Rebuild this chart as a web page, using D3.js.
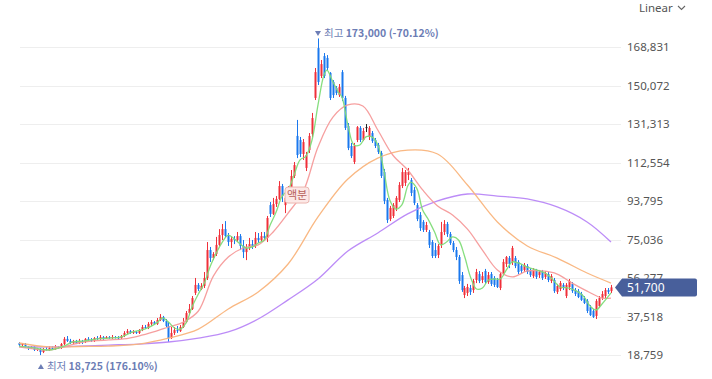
<!DOCTYPE html>
<html><head><meta charset="utf-8">
<script src="https://cdn.jsdelivr.net/npm/d3@7"></script>
<style>
html,body{margin:0;padding:0;background:#fff;}
svg{display:block;font-family:"Noto Sans","Noto Sans CJK KR",sans-serif;}
</style></head><body>
<svg id="c" width="712" height="379"></svg>
<script>
const opens=[24600,23600,24100,22700,22200,22700,21200,21700,20200,21700,
21200,22200,21700,22700,22200,24100,26600,25600,24600,25600,
24600,25600,25100,26600,26100,25600,27000,26600,27500,27000,
27500,27000,27500,27300,27000,28000,29500,30400,29500,30000,
29500,30900,32400,31900,33900,34800,33900,35800,37300,35300,
32900,27000,29500,30900,30400,32400,34800,39200,41200,49000,
52900,50900,52400,56300,69900,66000,68000,72400,77200,80100,
76700,73800,75300,74800,76700,71900,68900,70900,72800,71900,
75800,74800,76700,75800,91800,87500,92300,94800,101100,91800,
95300,99200,106000,125500,123500,116700,109900,118600,126400,144000,
168300,154700,164400,163500,156200,151800,148900,145400,156600,144000,
130300,120600,112800,123500,129400,123500,129800,125000,126900,123500,
121100,117200,107900,94300,85000,86500,90400,94300,101100,102600,
106500,104000,99200,91800,87000,83600,79700,78700,73800,69900,
67500,72400,78700,82600,77700,73300,69900,66500,57700,48000,
49000,51400,50400,55300,58200,55300,59700,54300,58200,56300,
55300,51400,58700,63100,66000,64100,66000,64100,62100,60200,
62100,60200,57200,59700,57700,59200,56800,58200,54800,55300,
49500,50900,52900,47500,51900,53400,50400,49900,48500,46500,
45100,42100,40200,37800,42600,46500,47500,50400,49900];
const closes=[23600,24100,22700,22200,22700,21200,21700,20200,21700,21200,
22200,21700,22700,22200,24100,26600,25600,24600,25600,24600,
25600,25100,26600,26100,25600,27000,26600,27500,27000,27500,
27000,27500,27300,27000,28000,29500,30400,29500,30000,29500,
30900,32400,31900,33900,34800,33900,35800,37300,35300,32900,
27000,29500,30900,30400,32400,34800,39200,41200,46500,52900,
50900,52400,56300,69900,66000,68000,72400,77200,80100,76700,
73800,75300,74800,76700,71900,68900,70900,72800,71900,75800,
74800,76700,75800,85500,87500,92300,94800,101100,96200,95300,
99200,106000,111300,116200,116700,122500,116200,125500,134200,156600,
151800,160500,154700,158600,144000,145400,146400,149300,144000,129400,
119600,115700,120600,129800,123500,127900,129800,129400,123000,120600,
117700,106000,93800,84500,90400,91800,95300,101600,107900,107900,
107900,97700,92800,85000,80600,79700,82100,72400,67000,67000,
71900,78700,82600,77700,73300,69900,66500,54800,50400,51400,
51900,49500,54800,59200,54800,57200,54300,57700,53400,52900,
51900,58200,64100,66500,63100,70900,62100,59200,59700,62600,
59200,57700,60200,56800,59200,56300,58700,55300,57200,49900,
52400,53800,51400,52900,54800,49900,48500,47000,45600,44100,
40200,38200,37300,45100,46500,48500,50400,49500,51700];
const highs=[25100,24600,24600,23100,23100,23100,22200,22200,22200,22700,
23100,23100,23600,23100,24600,27500,28000,26600,26100,26100,
26600,26100,27000,27500,27000,27500,28000,28500,28000,28000,
28000,28500,28000,28000,28500,30400,31400,30900,30900,30400,
31400,33400,33400,34800,35800,35300,36800,38700,37800,36300,
34800,32400,32400,32900,33400,36800,40200,43600,47500,56300,
53800,53800,59200,73800,71400,68900,76300,80100,82600,84000,
78200,76700,76700,78700,77700,74800,72800,75800,74800,78700,
78200,78700,78700,86500,93300,95300,96200,103500,102100,96200,
101100,108900,112800,133300,125000,124000,117700,126900,136700,158600,
173000,162500,165900,164900,156600,152700,149800,150800,157600,145000,
131800,122100,122100,130300,130300,129400,131300,130300,127900,124500,
122100,118200,109400,95300,91400,92800,96200,103000,109900,108900,
109900,105000,100600,92800,88400,84500,83600,79700,74800,73300,
72800,83600,84500,83600,78700,74300,71400,67500,59200,52400,
53400,52900,55800,60700,59700,59200,60700,59200,59200,57200,
56300,59200,65500,67000,67000,71900,67000,65000,63100,63600,
63100,61100,61100,60700,60200,60200,59700,59200,58200,56300,
53400,54800,53800,53800,55800,54300,51400,50900,49500,47500,
46000,43100,41200,46000,47500,49900,51400,51400,52900];
const lows=[23100,22700,22200,21200,21700,20700,20700,18725,19700,20700,
20700,21200,21200,21700,21700,23600,25100,24100,24100,24100,
24100,24100,24600,25600,25100,25100,26100,26100,26100,26600,
26600,26600,26800,26100,26600,27500,29000,29000,29000,29000,
29000,30400,31400,31400,32900,33400,33400,35300,34800,32400,
25100,26600,28500,29500,30000,31900,34300,38200,40700,48000,
49900,50400,51400,55300,64100,65000,67000,71900,74800,75800,
71900,70900,72800,73800,69900,66000,65000,69900,70400,70900,
73300,73800,74300,73800,86000,87000,90900,94300,93300,87900,
94300,98200,105000,114700,115200,113800,108400,117200,125000,143000,
150300,153700,153700,157600,143000,144000,145400,144500,142500,128400,
118600,114700,111800,122500,122500,123000,127400,123500,122100,119600,
116700,105000,92300,83100,84000,85500,88900,93300,100100,101100,
104000,96200,91800,84000,79200,78700,78700,70900,66000,66000,
66000,70900,77200,76300,72400,68900,65000,53400,49500,46500,
47500,48000,49000,53800,53800,53800,53400,53400,52400,51900,
51400,50400,57700,61600,61100,62600,61100,58200,58700,59200,
58200,56800,56300,55800,56300,55300,55800,54300,53800,49000,
48500,49900,50400,46500,50400,49000,47500,46500,45100,43600,
39200,37800,36800,36300,41700,45600,46500,48500,49000];

const yTicks=[18759,37518,56277,75036,93795,112554,131313,150072,168831];

const ma5Idx=[0,5,10,15,18,22,26,30,34,38,42,46,48,50,52,54,56,58,60,62,64,66,68,70,72,74,76,78,80,82,84,86,88,90,92,94,96,98,100,102,103,105,107,108,110,112,114,116,118,120,122,124,126,128,130,131,133,135,137,139,141,143,145,147,149,151,153,155,157,159,161,163,165,167,170,173,176,178,181,184,187,189,191,193,195,198];
const ma5=[23100,22200,21200,23100,25100,25600,26600,27000,27500,30000,31400,34300,36800,34800,31900,31400,34800,42600,48500,53800,62100,68500,73800,77200,75300,72800,70900,71400,73300,74800,82100,88400,96200,99200,106500,113800,115700,123500,140600,155200,157600,151800,146400,144500,130800,121100,121100,125000,125000,121100,108900,94300,89900,91800,101100,103000,100100,89400,84500,78700,72400,73800,76300,74800,67000,56800,50900,51400,55300,55800,55800,60200,64100,63600,61600,60200,58700,56300,51900,51400,49500,47000,42600,40700,43600,49000];
const ma20Idx=[0,5,10,15,20,25,30,35,40,45,50,55,60,65,70,75,80,85,90,95,100,105,110,115,120,125,130,135,140,145,150,155,160,165,170,175,180,185,190,195,198];
const ma20=[22700,21700,21200,22700,24600,25600,26100,26600,28000,30000,32400,34800,40200,57200,66500,70900,72400,78700,87900,98200,120100,134700,140600,140100,128400,116200,108900,99200,91400,87000,80100,69900,60200,56800,59700,59700,58200,53800,49900,46500,46500];
const ma60Idx=[0,10,20,30,40,50,60,70,80,90,100,110,120,130,140,150,160,170,180,190,198];
const ma60=[24600,22700,22900,23100,24100,27000,31400,41200,49500,63100,86000,104500,114700,118600,116700,101600,83600,71900,66000,58700,53800];
const ma120Idx=[0,10,20,30,40,50,60,70,80,90,100,110,120,130,140,150,160,170,180,190,198];
const ma120=[22700,22700,23100,23600,24100,25100,27000,30000,36300,45600,55800,69400,78200,87500,93800,97200,96200,94800,90900,83600,73800];

const maxIdx=100, maxPrice=173000, maxPct="(-70.12%)";
const minIdx=7, minPrice=18725, minPct="(176.10%)";
const splitIdx=93, splitVal=96700;

const svg=d3.select("#c");
const x=d3.scaleLinear().domain([0,closes.length-1]).range([19,611]);
const y=d3.scaleLinear().domain([yTicks[0],yTicks[yTicks.length-1]]).range([355,47]);
const fmt=d3.format(",");

// gridlines
svg.append("g").selectAll("line").data(yTicks).join("line")
  .attr("x1",20).attr("x2",621)
  .attr("y1",d=>Math.round(y(d))+0.5).attr("y2",d=>Math.round(y(d))+0.5)
  .attr("stroke","#eeeeee").attr("stroke-width",1);

// axis labels
const ax=svg.append("g").attr("transform","translate(627,0)")
  .call(d3.axisRight(y).tickValues(yTicks).tickSize(0).tickPadding(0).tickFormat(fmt));
ax.select(".domain").remove();
ax.selectAll("text").attr("fill","#555").attr("font-size","11.5px")
  .attr("font-family","'Noto Sans','Noto Sans CJK KR',sans-serif");

// candles
const cg=svg.append("g");
closes.forEach((c,i)=>{
  const o=opens[i],h=highs[i],l=lows[i];
  const col=c>o?"#f0303a":(c<o?"#1a78ee":"#222");
  const cx=Math.round(x(i));
  cg.append("rect").attr("x",cx).attr("width",1)
    .attr("y",y(h)).attr("height",Math.max(1,y(l)-y(h))).attr("fill",col);
  const top=y(Math.max(o,c)),bot=y(Math.min(o,c));
  cg.append("rect").attr("x",cx-0.5).attr("width",2)
    .attr("y",top).attr("height",Math.max(1,bot-top)).attr("fill",col);
});

// moving averages
function maLine(idx,vals,color){
  const line=d3.line().x((d,k)=>x(idx[k])).y(d=>y(d)).curve(d3.curveCatmullRom.alpha(0.5));
  svg.append("path").attr("d",line(vals)).attr("fill","none")
    .attr("stroke",color).attr("stroke-width",1.3).attr("stroke-opacity",0.95);
}
maLine(ma120Idx,ma120,"#b886f7");
maLine(ma60Idx,ma60,"#f9b47c");
maLine(ma20Idx,ma20,"#f59a9a");
maLine(ma5Idx,ma5,"#7fdc78");

// max annotation
const annColor="#6c7db5";
const mx=x(maxIdx), my=y(maxPrice)-5;
svg.append("path").attr("d",`M${mx-3},${my-2.5}L${mx+3},${my-2.5}L${mx},${my+2.5}Z`).attr("fill",annColor);
const t1=svg.append("text").attr("x",mx+6).attr("y",my).attr("dy","0.35em")
  .attr("font-size","10.5px").attr("fill",annColor).attr("font-family","'Noto Sans CJK KR','Noto Sans',sans-serif");
t1.append("tspan").text("최고 ");
t1.append("tspan").attr("font-weight","bold").text(fmt(maxPrice)+" "+maxPct);

// min annotation
const nx=x(minIdx)+1, ny=y(minPrice)+11.5;
svg.append("path").attr("d",`M${nx-3},${ny+2.5}L${nx+3},${ny+2.5}L${nx},${ny-2.5}Z`).attr("fill",annColor);
const t2=svg.append("text").attr("x",nx+6).attr("y",ny).attr("dy","0.35em")
  .attr("font-size","10.5px").attr("fill",annColor).attr("font-family","'Noto Sans CJK KR','Noto Sans',sans-serif");
t2.append("tspan").text("최저 ");
t2.append("tspan").attr("font-weight","bold").text(fmt(minPrice)+" "+minPct);

// split marker
const sx=x(splitIdx), sy=y(splitVal);
svg.append("rect").attr("x",sx-12).attr("y",sy-8).attr("width",24).attr("height",16).attr("rx",3)
  .attr("fill","#fce8e6").attr("stroke","#ebb6b1").attr("stroke-width",1);
svg.append("text").attr("x",sx).attr("y",sy).attr("dy","0.35em").attr("text-anchor","middle")
  .attr("font-size","11px").attr("fill","#b8615b").attr("font-family","'Noto Sans CJK KR',sans-serif").text("액분");

// last price label
const last=closes[closes.length-1];
const ly=y(last);
svg.append("path").attr("d",`M615,${ly}L622,${ly-9}L695,${ly-9}Q697,${ly-9} 697,${ly-7}L697,${ly+7}Q697,${ly+9} 695,${ly+9}L622,${ly+9}Z`)
  .attr("fill","#485f9b");
svg.append("text").attr("x",627).attr("y",ly).attr("dy","0.36em").attr("fill","#fff")
  .attr("font-size","12px").text(fmt(last));

// Linear selector
svg.append("text").attr("x",639).attr("y",8).attr("dy","0.35em").attr("fill","#555")
  .attr("font-size","11.5px").text("Linear");
svg.append("path").attr("d","M678,6L681.5,9.5L685,6").attr("fill","none").attr("stroke","#666").attr("stroke-width",1.1);
</script>
</body></html>
